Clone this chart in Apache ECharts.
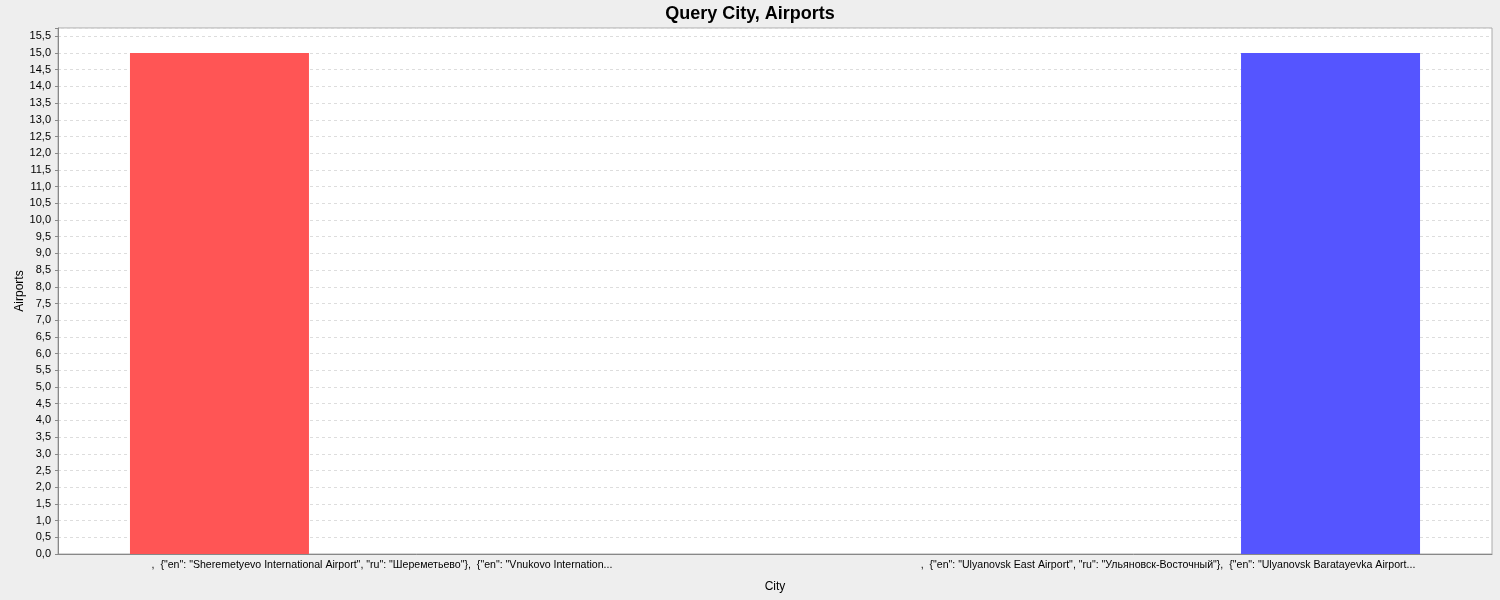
<!DOCTYPE html>
<html>
<head>
<meta charset="utf-8">
<script src="https://cdn.jsdelivr.net/npm/echarts@6/dist/echarts.min.js"></script>
<style>
html,body{margin:0;padding:0;background:#EEEEEE;}
#c{width:1500px;height:600px;}
</style>
</head>
<body>
<div id="c"></div>
<script>
const titleText = 'Query City, Airports';
const categories = [
  ',  {"en": "Sheremetyevo International Airport", "ru": "Шереметьево"},  {"en": "Vnukovo Internation...',
  ',  {"en": "Ulyanovsk East Airport", "ru": "Ульяновск-Восточный"},  {"en": "Ulyanovsk Baratayevka Airport...'
];
const seriesNames = ['Airports (series 1)', 'Airports (series 2)'];
const seriesRed = [15, null];
const seriesBlue = [null, 15];
const yMin = 0, yMax = 15.75, yStep = 0.5;
const xTitle = 'City';
const yTitle = 'Airports';

const font = 'Liberation Sans, Arial, sans-serif';
const chart = echarts.init(document.getElementById('c'), null, {renderer: 'canvas'});
chart.setOption({
  backgroundColor: '#EEEEEE',
  animation: false,
  title: {
    text: titleText, left: 'center', top: 0,
    textStyle: {fontFamily: font, fontSize: 18, fontWeight: 'bold', color: '#000'}
  },
  grid: [
    {left: 58, top: 28, width: 1434, height: 526, show: true, backgroundColor: '#FFFFFF', borderColor: '#AAAAAA', borderWidth: 1,
     outerBoundsMode: 'none', containLabel: false},
    {left: -11, top: 28, width: 1572, height: 526, show: false, outerBoundsMode: 'none', containLabel: false}
  ],
  xAxis: [
    {gridIndex: 0, type: 'value', min: 0, max: 1, axisLabel: {show: false}, axisTick: {show: false}, splitLine: {show: false},
     axisLine: {show: true, lineStyle: {color: '#888888'}}},
    {gridIndex: 1, type: 'category', data: categories,
     axisLine: {show: false}, axisTick: {show: false}, splitLine: {show: false},
     axisLabel: {interval: 0, margin: 6, fontFamily: font, fontSize: 10.6, color: '#000'},
     name: xTitle, nameLocation: 'middle', nameGap: 27, nameMoveOverlap: false,
     nameTextStyle: {fontFamily: font, fontSize: 12, color: '#000'}}
  ],
  yAxis: [
    {gridIndex: 0, type: 'value', min: yMin, max: yMax, interval: yStep,
     axisLine: {show: true, lineStyle: {color: '#888888'}},
     axisTick: {show: true, length: 3, lineStyle: {color: '#888888'}},
     axisLabel: {fontFamily: font, fontSize: 11, color: '#000', margin: 7,
       formatter: v => (Math.abs(v / yStep - Math.round(v / yStep)) < 1e-9) ? v.toFixed(1).replace('.', ',') : ''},
     splitLine: {show: true, lineStyle: {color: '#DDDDDD', type: [3, 3], width: 1}},
     name: yTitle, nameLocation: 'middle', nameGap: 32, nameRotate: 90, nameMoveOverlap: false,
     nameTextStyle: {fontFamily: font, fontSize: 12, color: '#000'}},
    {gridIndex: 1, type: 'value', min: yMin, max: yMax, show: false, splitLine: {show: false}}
  ],
  series: [
    {name: seriesNames[0], type: 'bar', xAxisIndex: 1, yAxisIndex: 1, data: seriesRed,
     barWidth: 179, barGap: '81.6%', itemStyle: {color: '#FF5555'}},
    {name: seriesNames[1], type: 'bar', xAxisIndex: 1, yAxisIndex: 1, data: seriesBlue,
     barWidth: 179, barGap: '81.6%', itemStyle: {color: '#5555FF'}}
  ]
});
</script>
</body>
</html>
